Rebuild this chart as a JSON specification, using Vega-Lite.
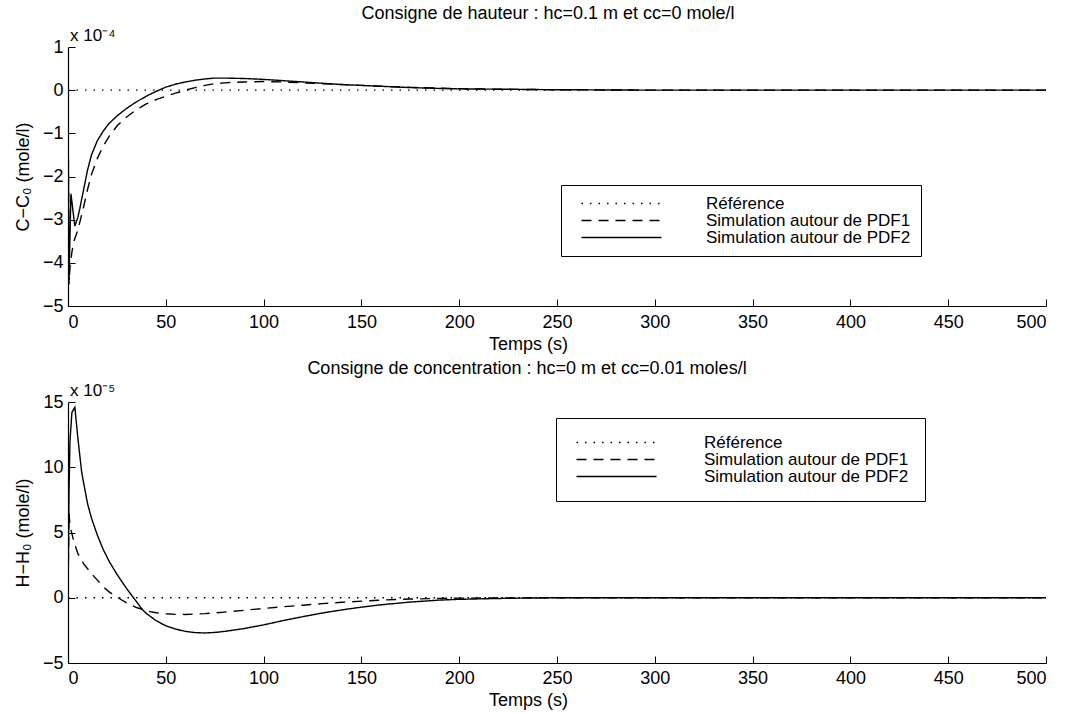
{
  "$schema": "https://vega.github.io/schema/vega-lite/v6.json",
  "padding": {"left": 14, "top": 5, "right": 5, "bottom": 2},
  "background": "white",
  "config": {
    "font": "Liberation Sans",
    "view": {"stroke": null},
    "title": {"fontSize": 18, "fontWeight": "normal", "color": "black", "font": "Liberation Sans"},
    "axis": {
      "grid": false,
      "domainColor": "black",
      "domainWidth": 1.2,
      "tickColor": "black",
      "tickWidth": 1,
      "tickSize": -7,
      "labelColor": "black",
      "labelFontSize": 18,
      "titleFontSize": 18,
      "titleFontWeight": "normal",
      "titleColor": "black",
      "labelFont": "Liberation Sans",
      "titleFont": "Liberation Sans"
    }
  },
  "datasets": {
    "haut": [
      {"t": 0, "s": "Référence", "v": 0},
      {"t": 500, "s": "Référence", "v": 0},
      {"t": 0, "s": "Simulation autour de PDF1", "v": 0},
      {"t": 0.5, "s": "Simulation autour de PDF1", "v": -4.5},
      {"t": 1, "s": "Simulation autour de PDF1", "v": -4.1},
      {"t": 2, "s": "Simulation autour de PDF1", "v": -3.75},
      {"t": 3, "s": "Simulation autour de PDF1", "v": -3.5},
      {"t": 5, "s": "Simulation autour de PDF1", "v": -3.25},
      {"t": 8, "s": "Simulation autour de PDF1", "v": -2.7},
      {"t": 10, "s": "Simulation autour de PDF1", "v": -2.3},
      {"t": 12, "s": "Simulation autour de PDF1", "v": -1.95},
      {"t": 15, "s": "Simulation autour de PDF1", "v": -1.58},
      {"t": 18, "s": "Simulation autour de PDF1", "v": -1.3},
      {"t": 21, "s": "Simulation autour de PDF1", "v": -1.07},
      {"t": 25, "s": "Simulation autour de PDF1", "v": -0.83},
      {"t": 30, "s": "Simulation autour de PDF1", "v": -0.62},
      {"t": 35, "s": "Simulation autour de PDF1", "v": -0.45},
      {"t": 40, "s": "Simulation autour de PDF1", "v": -0.32},
      {"t": 45, "s": "Simulation autour de PDF1", "v": -0.22},
      {"t": 50, "s": "Simulation autour de PDF1", "v": -0.14},
      {"t": 55, "s": "Simulation autour de PDF1", "v": -0.07},
      {"t": 60, "s": "Simulation autour de PDF1", "v": 0.0},
      {"t": 65, "s": "Simulation autour de PDF1", "v": 0.06},
      {"t": 70, "s": "Simulation autour de PDF1", "v": 0.11},
      {"t": 75, "s": "Simulation autour de PDF1", "v": 0.15},
      {"t": 80, "s": "Simulation autour de PDF1", "v": 0.17},
      {"t": 90, "s": "Simulation autour de PDF1", "v": 0.19},
      {"t": 100, "s": "Simulation autour de PDF1", "v": 0.2},
      {"t": 110, "s": "Simulation autour de PDF1", "v": 0.19},
      {"t": 120, "s": "Simulation autour de PDF1", "v": 0.17},
      {"t": 130, "s": "Simulation autour de PDF1", "v": 0.15},
      {"t": 140, "s": "Simulation autour de PDF1", "v": 0.13},
      {"t": 150, "s": "Simulation autour de PDF1", "v": 0.11},
      {"t": 160, "s": "Simulation autour de PDF1", "v": 0.09},
      {"t": 175, "s": "Simulation autour de PDF1", "v": 0.065},
      {"t": 190, "s": "Simulation autour de PDF1", "v": 0.045},
      {"t": 200, "s": "Simulation autour de PDF1", "v": 0.035},
      {"t": 225, "s": "Simulation autour de PDF1", "v": 0.02},
      {"t": 250, "s": "Simulation autour de PDF1", "v": 0.01},
      {"t": 300, "s": "Simulation autour de PDF1", "v": 0.0},
      {"t": 350, "s": "Simulation autour de PDF1", "v": 0.0},
      {"t": 400, "s": "Simulation autour de PDF1", "v": 0.0},
      {"t": 450, "s": "Simulation autour de PDF1", "v": 0.0},
      {"t": 500, "s": "Simulation autour de PDF1", "v": 0.0},
      {"t": 0, "s": "Simulation autour de PDF2", "v": 0},
      {"t": 0.5, "s": "Simulation autour de PDF2", "v": -4.4},
      {"t": 1.5, "s": "Simulation autour de PDF2", "v": -2.4},
      {"t": 3.5, "s": "Simulation autour de PDF2", "v": -3.15},
      {"t": 5, "s": "Simulation autour de PDF2", "v": -2.95},
      {"t": 6, "s": "Simulation autour de PDF2", "v": -2.75},
      {"t": 8, "s": "Simulation autour de PDF2", "v": -2.3},
      {"t": 10, "s": "Simulation autour de PDF2", "v": -1.85},
      {"t": 12, "s": "Simulation autour de PDF2", "v": -1.5},
      {"t": 15, "s": "Simulation autour de PDF2", "v": -1.17},
      {"t": 18, "s": "Simulation autour de PDF2", "v": -0.95},
      {"t": 21, "s": "Simulation autour de PDF2", "v": -0.77},
      {"t": 25, "s": "Simulation autour de PDF2", "v": -0.6},
      {"t": 30, "s": "Simulation autour de PDF2", "v": -0.42},
      {"t": 35, "s": "Simulation autour de PDF2", "v": -0.27},
      {"t": 40, "s": "Simulation autour de PDF2", "v": -0.14},
      {"t": 45, "s": "Simulation autour de PDF2", "v": -0.03},
      {"t": 50, "s": "Simulation autour de PDF2", "v": 0.07},
      {"t": 55, "s": "Simulation autour de PDF2", "v": 0.14},
      {"t": 60, "s": "Simulation autour de PDF2", "v": 0.19},
      {"t": 65, "s": "Simulation autour de PDF2", "v": 0.23},
      {"t": 70, "s": "Simulation autour de PDF2", "v": 0.26},
      {"t": 75, "s": "Simulation autour de PDF2", "v": 0.28},
      {"t": 80, "s": "Simulation autour de PDF2", "v": 0.28},
      {"t": 90, "s": "Simulation autour de PDF2", "v": 0.27},
      {"t": 100, "s": "Simulation autour de PDF2", "v": 0.25},
      {"t": 110, "s": "Simulation autour de PDF2", "v": 0.22},
      {"t": 120, "s": "Simulation autour de PDF2", "v": 0.19},
      {"t": 130, "s": "Simulation autour de PDF2", "v": 0.16},
      {"t": 140, "s": "Simulation autour de PDF2", "v": 0.13},
      {"t": 150, "s": "Simulation autour de PDF2", "v": 0.11},
      {"t": 160, "s": "Simulation autour de PDF2", "v": 0.09},
      {"t": 175, "s": "Simulation autour de PDF2", "v": 0.06},
      {"t": 190, "s": "Simulation autour de PDF2", "v": 0.04},
      {"t": 200, "s": "Simulation autour de PDF2", "v": 0.03},
      {"t": 225, "s": "Simulation autour de PDF2", "v": 0.02},
      {"t": 250, "s": "Simulation autour de PDF2", "v": 0.01},
      {"t": 300, "s": "Simulation autour de PDF2", "v": 0.0},
      {"t": 350, "s": "Simulation autour de PDF2", "v": 0.0},
      {"t": 400, "s": "Simulation autour de PDF2", "v": 0.0},
      {"t": 450, "s": "Simulation autour de PDF2", "v": 0.0},
      {"t": 500, "s": "Simulation autour de PDF2", "v": 0.0}
    ],
    "conc": [
      {"t": 0, "s": "Référence", "v": 0},
      {"t": 500, "s": "Référence", "v": 0},
      {"t": 0, "s": "Simulation autour de PDF1", "v": 0},
      {"t": 0.5, "s": "Simulation autour de PDF1", "v": 6.5},
      {"t": 1, "s": "Simulation autour de PDF1", "v": 5.5},
      {"t": 3, "s": "Simulation autour de PDF1", "v": 4.3},
      {"t": 5, "s": "Simulation autour de PDF1", "v": 3.4},
      {"t": 8, "s": "Simulation autour de PDF1", "v": 2.6},
      {"t": 12, "s": "Simulation autour de PDF1", "v": 1.85},
      {"t": 15, "s": "Simulation autour de PDF1", "v": 1.35},
      {"t": 18, "s": "Simulation autour de PDF1", "v": 0.85},
      {"t": 21, "s": "Simulation autour de PDF1", "v": 0.45},
      {"t": 25, "s": "Simulation autour de PDF1", "v": 0.05},
      {"t": 30, "s": "Simulation autour de PDF1", "v": -0.4},
      {"t": 35, "s": "Simulation autour de PDF1", "v": -0.75},
      {"t": 40, "s": "Simulation autour de PDF1", "v": -1.0},
      {"t": 45, "s": "Simulation autour de PDF1", "v": -1.15},
      {"t": 50, "s": "Simulation autour de PDF1", "v": -1.23},
      {"t": 55, "s": "Simulation autour de PDF1", "v": -1.27},
      {"t": 60, "s": "Simulation autour de PDF1", "v": -1.28},
      {"t": 70, "s": "Simulation autour de PDF1", "v": -1.22},
      {"t": 80, "s": "Simulation autour de PDF1", "v": -1.1},
      {"t": 90, "s": "Simulation autour de PDF1", "v": -0.96},
      {"t": 100, "s": "Simulation autour de PDF1", "v": -0.82},
      {"t": 110, "s": "Simulation autour de PDF1", "v": -0.69},
      {"t": 120, "s": "Simulation autour de PDF1", "v": -0.57},
      {"t": 130, "s": "Simulation autour de PDF1", "v": -0.45},
      {"t": 140, "s": "Simulation autour de PDF1", "v": -0.35},
      {"t": 150, "s": "Simulation autour de PDF1", "v": -0.26},
      {"t": 160, "s": "Simulation autour de PDF1", "v": -0.18},
      {"t": 175, "s": "Simulation autour de PDF1", "v": -0.1},
      {"t": 190, "s": "Simulation autour de PDF1", "v": -0.05},
      {"t": 200, "s": "Simulation autour de PDF1", "v": -0.03},
      {"t": 225, "s": "Simulation autour de PDF1", "v": -0.01},
      {"t": 250, "s": "Simulation autour de PDF1", "v": 0.0},
      {"t": 300, "s": "Simulation autour de PDF1", "v": 0.0},
      {"t": 350, "s": "Simulation autour de PDF1", "v": 0.0},
      {"t": 400, "s": "Simulation autour de PDF1", "v": 0.0},
      {"t": 450, "s": "Simulation autour de PDF1", "v": 0.0},
      {"t": 500, "s": "Simulation autour de PDF1", "v": 0.0},
      {"t": 0, "s": "Simulation autour de PDF2", "v": 0},
      {"t": 0.5, "s": "Simulation autour de PDF2", "v": 8},
      {"t": 1, "s": "Simulation autour de PDF2", "v": 12},
      {"t": 2, "s": "Simulation autour de PDF2", "v": 14.2},
      {"t": 3.5, "s": "Simulation autour de PDF2", "v": 14.6},
      {"t": 5, "s": "Simulation autour de PDF2", "v": 12.3},
      {"t": 7, "s": "Simulation autour de PDF2", "v": 9.6},
      {"t": 10, "s": "Simulation autour de PDF2", "v": 7.2},
      {"t": 12, "s": "Simulation autour de PDF2", "v": 6.1},
      {"t": 15, "s": "Simulation autour de PDF2", "v": 4.8},
      {"t": 18, "s": "Simulation autour de PDF2", "v": 3.7},
      {"t": 21, "s": "Simulation autour de PDF2", "v": 2.8},
      {"t": 25, "s": "Simulation autour de PDF2", "v": 1.8},
      {"t": 30, "s": "Simulation autour de PDF2", "v": 0.7},
      {"t": 33, "s": "Simulation autour de PDF2", "v": 0.1},
      {"t": 35, "s": "Simulation autour de PDF2", "v": -0.3},
      {"t": 38, "s": "Simulation autour de PDF2", "v": -0.9},
      {"t": 40, "s": "Simulation autour de PDF2", "v": -1.2},
      {"t": 45, "s": "Simulation autour de PDF2", "v": -1.75},
      {"t": 50, "s": "Simulation autour de PDF2", "v": -2.15},
      {"t": 55, "s": "Simulation autour de PDF2", "v": -2.4},
      {"t": 60, "s": "Simulation autour de PDF2", "v": -2.58},
      {"t": 65, "s": "Simulation autour de PDF2", "v": -2.67},
      {"t": 70, "s": "Simulation autour de PDF2", "v": -2.7},
      {"t": 75, "s": "Simulation autour de PDF2", "v": -2.66},
      {"t": 80, "s": "Simulation autour de PDF2", "v": -2.58},
      {"t": 90, "s": "Simulation autour de PDF2", "v": -2.36},
      {"t": 100, "s": "Simulation autour de PDF2", "v": -2.08},
      {"t": 110, "s": "Simulation autour de PDF2", "v": -1.75},
      {"t": 120, "s": "Simulation autour de PDF2", "v": -1.45},
      {"t": 130, "s": "Simulation autour de PDF2", "v": -1.17},
      {"t": 140, "s": "Simulation autour de PDF2", "v": -0.93},
      {"t": 150, "s": "Simulation autour de PDF2", "v": -0.72},
      {"t": 160, "s": "Simulation autour de PDF2", "v": -0.54},
      {"t": 175, "s": "Simulation autour de PDF2", "v": -0.33},
      {"t": 190, "s": "Simulation autour de PDF2", "v": -0.18},
      {"t": 200, "s": "Simulation autour de PDF2", "v": -0.12},
      {"t": 225, "s": "Simulation autour de PDF2", "v": -0.04},
      {"t": 250, "s": "Simulation autour de PDF2", "v": 0.0},
      {"t": 300, "s": "Simulation autour de PDF2", "v": 0.0},
      {"t": 350, "s": "Simulation autour de PDF2", "v": 0.0},
      {"t": 400, "s": "Simulation autour de PDF2", "v": 0.0},
      {"t": 450, "s": "Simulation autour de PDF2", "v": 0.0},
      {"t": 500, "s": "Simulation autour de PDF2", "v": 0.0}
    ]
  },
  "resolve": {"scale": {"strokeDash": "independent"}, "legend": {"strokeDash": "independent"}},
  "spacing": 7,
  "vconcat": [
    {
      "width": 978,
      "height": 259,
      "title": {"text": "Consigne de hauteur : hc=0.1 m et cc=0 mole/l", "offset": 4, "dx": -9},
      "layer": [
        {
          "data": {"name": "haut"},
          "mark": {"type": "line", "color": "black", "strokeWidth": 1.4, "clip": true},
          "encoding": {
            "x": {"field": "t", "type": "quantitative", "scale": {"domain": [0, 500], "nice": false},
                  "axis": {"title": "Temps (s)", "values": [0, 50, 100, 150, 200, 250, 300, 350, 400, 450, 500], "labelPadding": 14, "titlePadding": 4, "titleX": 460}},
            "y": {"field": "v", "type": "quantitative", "scale": {"domain": [-5, 1], "nice": false},
                  "axis": {"title": "C−C₀ (mole/l)", "values": [-5, -4, -3, -2, -1, 0, 1], "labelPadding": 12, "titlePadding": 10}},
            "strokeDash": {"field": "s", "type": "nominal",
              "scale": {"domain": ["Référence", "Simulation autour de PDF1", "Simulation autour de PDF2"], "range": [[1.5, 7], [10, 7], [1, 0]]},
              "legend": {"title": null, "orient": "none", "legendX": 493, "legendY": 138, "strokeColor": "black", "fillColor": "white", "padding": 10,
                "symbolType": "M-5.714,0H5.714", "symbolSize": 196, "symbolStrokeWidth": 1.3, "symbolStrokeColor": "black",
                "symbolOffset": 42, "labelOffset": 76, "labelFontSize": 17, "labelColor": "black", "rowPadding": -2, "labelLimit": 500}}
          }
        },
        {
          "data": {"values": [{}]},
          "mark": {"type": "text", "text": "x 10⁻⁴", "align": "left", "baseline": "bottom", "dx": 2, "dy": -2, "fontSize": 17, "color": "black"},
          "encoding": {"x": {"datum": 0}, "y": {"datum": 1}}
        }
      ]
    },
    {
      "width": 978,
      "height": 261,
      "title": {"text": "Consigne de concentration : hc=0 m et cc=0.01 moles/l", "offset": 4, "dx": -30},
      "layer": [
        {
          "data": {"name": "conc"},
          "mark": {"type": "line", "color": "black", "strokeWidth": 1.4, "clip": true},
          "encoding": {
            "x": {"field": "t", "type": "quantitative", "scale": {"domain": [0, 500], "nice": false},
                  "axis": {"title": "Temps (s)", "values": [0, 50, 100, 150, 200, 250, 300, 350, 400, 450, 500], "labelPadding": 13, "titlePadding": 4, "titleX": 460}},
            "y": {"field": "v", "type": "quantitative", "scale": {"domain": [-5, 15], "nice": false},
                  "axis": {"title": "H−H₀ (mole/l)", "values": [-5, 0, 5, 10, 15], "labelPadding": 12, "titlePadding": 10}},
            "strokeDash": {"field": "s", "type": "nominal",
              "scale": {"domain": ["Référence", "Simulation autour de PDF1", "Simulation autour de PDF2"], "range": [[1.5, 7], [10, 7], [1, 0]]},
              "legend": {"title": null, "orient": "none", "legendX": 488, "legendY": 16, "strokeColor": "black", "fillColor": "white", "padding": 16,
                "symbolType": "M-5.714,0H5.714", "symbolSize": 196, "symbolStrokeWidth": 1.3, "symbolStrokeColor": "black",
                "symbolOffset": 36, "labelOffset": 79, "labelFontSize": 17, "labelColor": "black", "rowPadding": -2, "labelLimit": 500}}
          }
        },
        {
          "data": {"values": [{}]},
          "mark": {"type": "text", "text": "x 10⁻⁵", "align": "left", "baseline": "bottom", "dx": 2, "dy": -2, "fontSize": 17, "color": "black"},
          "encoding": {"x": {"datum": 0}, "y": {"datum": 15}}
        }
      ]
    }
  ]
}
